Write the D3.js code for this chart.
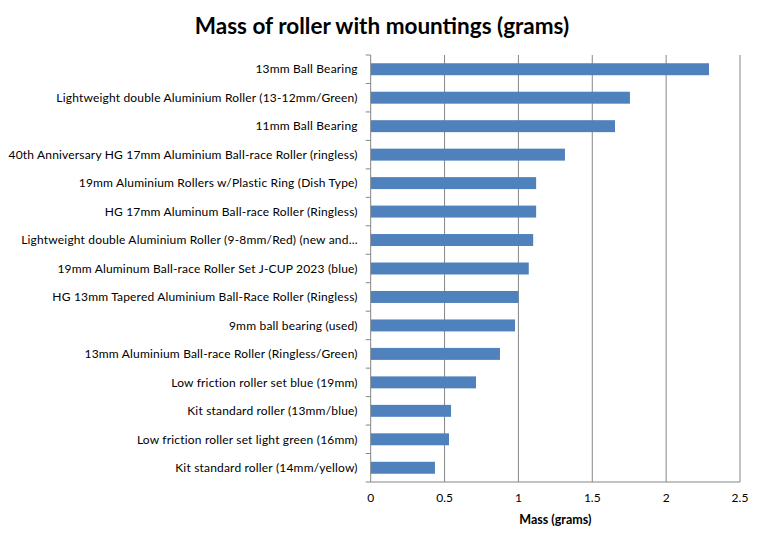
<!DOCTYPE html>
<html>
<head>
<meta charset="utf-8">
<script src="https://cdn.jsdelivr.net/npm/d3@7"></script>
<style>
    body { margin: 0; background: #fff; }
    svg { display: block; font-family: Lato, "Liberation Sans", sans-serif; }
</style>
</head>
<body>
<div id="chart"></div>
<script>
const rollers = [
    "13mm Ball Bearing",
    "Lightweight double Aluminium Roller (13-12mm/Green)",
    "11mm Ball Bearing",
    "40th Anniversary HG 17mm Aluminium Ball-race Roller (ringless)",
    "19mm Aluminium Rollers w/Plastic Ring (Dish Type)",
    "HG 17mm Aluminum Ball-race Roller (Ringless)",
    "Lightweight double Aluminium Roller (9-8mm/Red) (new and...",
    "19mm Aluminum Ball-race Roller Set J-CUP 2023 (blue)",
    "HG 13mm Tapered Aluminium Ball-Race Roller (Ringless)",
    "9mm ball bearing (used)",
    "13mm Aluminium Ball-race Roller (Ringless/Green)",
    "Low friction roller set blue (19mm)",
    "Kit standard roller (13mm/blue)",
    "Low friction roller set light green (16mm)",
    "Kit standard roller (14mm/yellow)",
];
const masses = [2.29, 1.755, 1.654, 1.315, 1.12, 1.12, 1.10, 1.07, 1.00, 0.977, 0.875, 0.713, 0.544, 0.53, 0.435];
const massTicks = [0, 0.5, 1, 1.5, 2, 2.5];

const data = rollers.map((name, i) => ({ name, mass: masses[i] }));

const width = 764;
const height = 544;
const margin = { top: 55, right: 24, bottom: 62, left: 370.7 };

const svg = d3.select("#chart")
    .append("svg")
    .attr("width", width)
    .attr("height", height);

const xScale = d3.scaleLinear()
    .domain([0, 2.5])
    .range([margin.left, width - margin.right]);

const yScale = d3.scaleBand()
    .domain(rollers)
    .range([margin.top, height - margin.bottom])
    .paddingInner(0.58)
    .paddingOuter(0.29);

const bandStep = yScale.step();
const plotBottom = height - margin.bottom;

// title
svg.append("text")
    .attr("x", 382)
    .attr("y", 34)
    .attr("text-anchor", "middle")
    .attr("font-size", 22.5)
    .attr("font-weight", "bold")
    .attr("fill", "#000")
    .text("Mass of roller with mountings (grams)");

// vertical gridlines
svg.append("g")
    .selectAll("line")
    .data(massTicks.slice(1))
    .join("line")
    .attr("x1", (d) => xScale(d))
    .attr("x2", (d) => xScale(d))
    .attr("y1", margin.top)
    .attr("y2", plotBottom)
    .attr("stroke", "#868686")
    .attr("stroke-width", 1);

// bars
svg.append("g")
    .selectAll("rect")
    .data(data)
    .join("rect")
    .attr("x", xScale(0))
    .attr("y", (d) => yScale(d.name))
    .attr("width", (d) => xScale(d.mass) - xScale(0))
    .attr("height", yScale.bandwidth())
    .attr("fill", "#4F81BD");

// category axis with ticks at band boundaries
const catAxis = svg.append("g");
catAxis.append("line")
    .attr("x1", xScale(0)).attr("x2", xScale(0))
    .attr("y1", margin.top).attr("y2", plotBottom)
    .attr("stroke", "#868686");
catAxis.selectAll(".cat-tick")
    .data(d3.range(rollers.length + 1))
    .join("line")
    .attr("class", "cat-tick")
    .attr("x1", xScale(0) - 5)
    .attr("x2", xScale(0))
    .attr("y1", (i) => margin.top + i * bandStep)
    .attr("y2", (i) => margin.top + i * bandStep)
    .attr("stroke", "#868686");
catAxis.selectAll(".cat-label")
    .data(rollers)
    .join("text")
    .attr("class", "cat-label")
    .attr("x", xScale(0) - 13)
    .attr("y", (d) => yScale(d) + yScale.bandwidth() / 2)
    .attr("dy", "0.35em")
    .attr("text-anchor", "end")
    .attr("font-size", 12)
    .attr("letter-spacing", 0.18)
    .attr("fill", "#000")
    .text((d) => d);

// value axis
const valAxis = svg.append("g");
valAxis.append("line")
    .attr("x1", xScale(0)).attr("x2", xScale(2.5))
    .attr("y1", plotBottom).attr("y2", plotBottom)
    .attr("stroke", "#868686");
valAxis.selectAll(".val-label")
    .data(massTicks)
    .join("text")
    .attr("class", "val-label")
    .attr("x", (d) => xScale(d))
    .attr("y", 502)
    .attr("text-anchor", "middle")
    .attr("font-size", 12)
    .attr("fill", "#000")
    .text((d) => d);

svg.append("text")
    .attr("x", (xScale(0) + xScale(2.5)) / 2)
    .attr("y", 524)
    .attr("text-anchor", "middle")
    .attr("font-size", 12.5)
    .attr("font-weight", "bold")
    .attr("fill", "#000")
    .text("Mass (grams)");
</script>
</body>
</html>
